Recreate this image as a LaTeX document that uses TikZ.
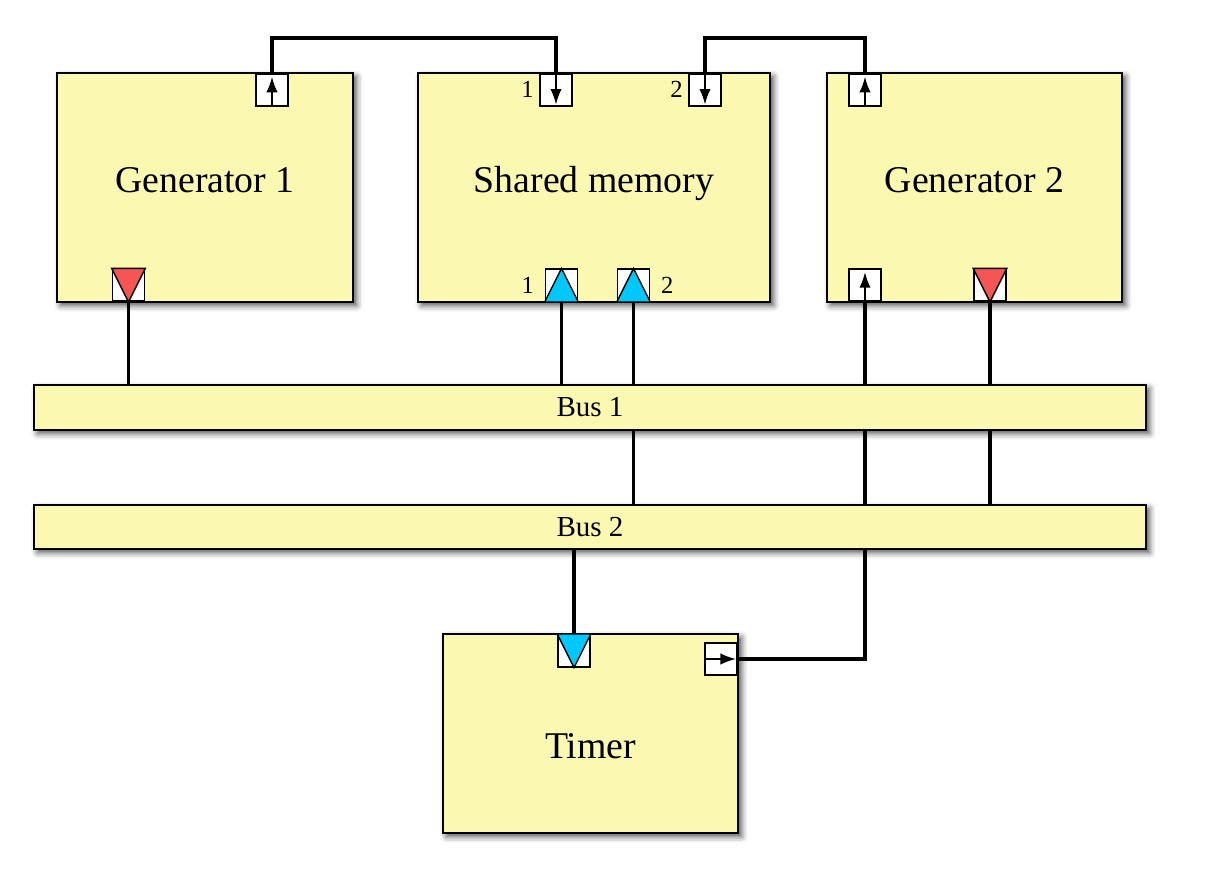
\documentclass[tikz,border=0pt]{standalone}
\usepackage{fontspec}
\setmainfont{Liberation Serif}
\usetikzlibrary{arrows.meta,shadows.blur}

\definecolor{unityellow}{RGB}{251,248,178}
\definecolor{sigred}{RGB}{245,85,85}
\definecolor{buscyan}{RGB}{0,200,250}

\pgfdeclarelayer{wires}
\pgfsetlayers{wires,main}

\tikzset{
	unit/.style={draw=black, line width=1pt, fill=unityellow, inner sep=0pt,
		blur shadow={shadow xshift=2pt, shadow yshift=-2pt, shadow blur radius=3.5pt, shadow opacity=70}},
	unitlabel/.style={text height=.66em, text depth=0pt, inner sep=0pt},
	bus/.style={unit, minimum width=22.24cm, font=\fontsize{16.5}{20}\selectfont},
	port/.style={draw=black, line width=.9pt, fill=white, minimum size=.64cm, inner sep=0pt},
	portnum/.style={font=\fontsize{14}{16}\selectfont, inner sep=1.5pt, label distance=1.5pt},
	wire/.style={line width=1.9pt},
	flow/.style={line width=1.3pt, -{Latex[length=9pt,width=6.5pt]}},
	tri/.style={draw=black, line width=.8pt}
}

\begin{document}
\begin{tikzpicture}[x=0.02cm, y=-0.02cm, font=\fontsize{21.5}{26}\selectfont]
	\useasboundingbox (0,0) rectangle (1205,878);
	%units
	\node[unit, minimum width=5.92cm, minimum height=4.58cm,
		label={[unitlabel,yshift=0.6pt]center:Generator 1}] (gen1) at (205,187.5) {};
	\node[unit, minimum width=7.04cm, minimum height=4.58cm,
		label={[unitlabel,yshift=0.6pt]center:Shared memory}] (shmem) at (594,187.5) {};
	\node[unit, minimum width=5.9cm, minimum height=4.58cm,
		label={[unitlabel,yshift=0.6pt]center:Generator 2}] (gen2) at (974.5,187.5) {};
	\node[unit, minimum width=5.9cm, minimum height=3.98cm,
		label={[unitlabel,yshift=-11pt]center:Timer}] (timer) at (590.5,733.5) {};
	%buses
	\node[bus, minimum height=.9cm] (bus1) at (590,407.5) {Bus 1};
	\node[bus, minimum height=.88cm] (bus2) at (590,527) {Bus 2};
	%ports
	\node[port, anchor=north] (g1out) at (272,73) {};
	\node[port, anchor=north, label={[portnum]left:1}] (sm1in) at (556,73) {};
	\node[port, anchor=north, label={[portnum]left:2}] (sm2in) at (705,73) {};
	\node[port, anchor=north] (g2out) at (865,73) {};
	\node[port, anchor=south] (g1sig) at (128.5,302) {};
	\node[port, anchor=south, label={[portnum,label distance=4.5pt]left:1}] (smbus1) at (561.5,302) {};
	\node[port, anchor=south, label={[portnum,label distance=4.5pt]right:2}] (smbus2) at (633.5,302) {};
	\node[port, anchor=south] (g2in) at (865,302) {};
	\node[port, anchor=south] (g2sig) at (990,302) {};
	\node[port, anchor=north] (tmrin) at (574,634) {};
	\node[port, anchor=east] (tmrout) at (738,659) {};
	%port marks
	\foreach \p in {g1sig,g2sig}
	\filldraw[tri, fill=sigred] (\p.north west) -- (\p.north east) -- (\p.south) -- cycle;
	\foreach \p in {smbus1,smbus2}
	\filldraw[tri, fill=buscyan] (\p.south west) -- (\p.south east) -- (\p.north) -- cycle;
	\filldraw[tri, fill=buscyan] (tmrin.north west) -- (tmrin.north east) -- (tmrin.south) -- cycle;
	\foreach \p in {g1out,g2out,g2in}
	\draw[flow] (\p.south) -- ([yshift=-2pt]\p.north);
	\foreach \p in {sm1in,sm2in}
	\draw[flow] (\p.north) -- ([yshift=1pt]\p.south);
	\draw[flow] (tmrout.west) -- ([xshift=-1pt]tmrout.east);
	%wires
	\begin{pgfonlayer}{wires}
		\coordinate (topwire) at (0,38);
		\draw[wire] (g1out.north) -- (g1out |- topwire) -- (sm1in |- topwire) -- (sm1in.north);
		\draw[wire] (g2out.north) -- (g2out |- topwire) -- (sm2in |- topwire) -- (sm2in.north);
		\draw[wire] (g1sig.south) -- (g1sig |- bus1.north);
		\draw[wire] (smbus1.south) -- (smbus1 |- bus1.north);
		\draw[wire] (smbus2.south) -- (smbus2 |- bus2.north);
		\draw[wire] (g2sig.south) -- (g2sig |- bus2.north);
		\draw[wire] (tmrin.north) -- (tmrin |- bus2.south);
		\draw[wire] (tmrout.east) -| (g2in.south);
	\end{pgfonlayer}
\end{tikzpicture}
\end{document}
